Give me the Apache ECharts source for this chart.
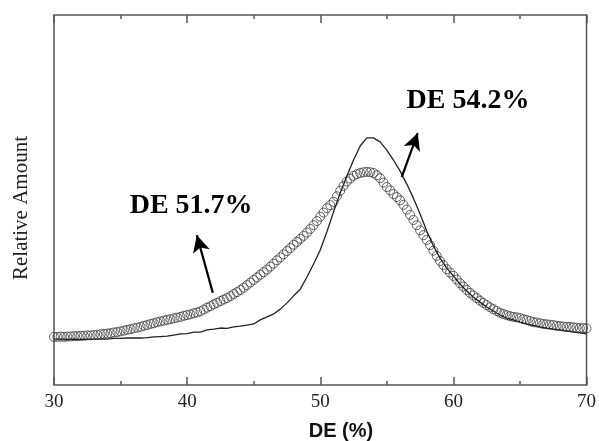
<!DOCTYPE html>
<html>
<head>
<meta charset="utf-8">
<title>DE distribution</title>
<script src="https://cdn.jsdelivr.net/npm/echarts@6/dist/echarts.min.js"></script>
<style>
  html, body { margin: 0; padding: 0; background: #fff; }
  #chart { width: 599px; height: 441px; }
</style>
</head>
<body>
<div id="chart"></div>
<script>
// x-axis tick labels (DE, %)
const xTicks = [30, 40, 50, 60, 70];

// Solid curve (DE 54.2% sample): relative amount, sampled every 0.5 % DE from 30 to 70
const solidStart = 30;
const solidStep = 0.5;
const solidValues = [
  12.4, 12.4, 12.3, 12.4, 12.3, 12.4, 12.4, 12.4, 12.4, 12.6,
  12.6, 12.7, 12.7, 12.7, 12.8, 13.0, 13.1, 13.2, 13.5, 13.8,
  13.9, 14.3, 14.3, 14.9, 15.1, 15.4, 15.3, 15.7, 15.9, 16.2,
  16.5, 17.6, 18.4, 19.2, 20.5, 22.2, 24.1, 25.9, 29.2, 32.7,
  36.5, 41.4, 46.8, 51.9, 56.5, 60.8, 64.6, 66.8, 66.8, 65.7,
  63.5, 60.8, 57.8, 54.3, 50.5, 46.2, 41.6, 37.6, 34.3, 31.6,
  29.5, 27.3, 25.4, 23.8, 22.4, 21.1, 20.0, 18.9, 18.1, 17.6,
  17.0, 16.5, 16.1, 15.7, 15.4, 15.1, 14.9, 14.6, 14.3, 14.1,
  13.8
];

// Open-circle curve (DE 51.7% sample): relative amount, sampled every 0.25 % DE from 30 to 70
const circleStart = 30;
const circleStep = 0.25;
const circleValues = [
  13.0, 13.0, 13.1, 13.0, 13.1, 13.1, 13.2, 13.2, 13.3, 13.3,
  13.4, 13.4, 13.5, 13.6, 13.7, 13.8, 13.9, 14.0, 14.2, 14.3,
  14.5, 14.7, 14.9, 15.1, 15.3, 15.5, 15.7, 16.0, 16.2, 16.5,
  16.7, 17.0, 17.2, 17.4, 17.6, 17.8, 18.0, 18.2, 18.4, 18.7,
  18.9, 19.1, 19.4, 19.6, 19.9, 20.4, 20.9, 21.3, 21.8, 22.2,
  22.7, 23.1, 23.5, 24.0, 24.6, 25.1, 25.7, 26.3, 27.0, 27.7,
  28.4, 29.1, 29.8, 30.5, 31.2, 32.0, 32.8, 33.7, 34.5, 35.3,
  36.2, 37.0, 37.9, 38.7, 39.5, 40.3, 41.2, 42.2, 43.2, 44.3,
  45.5, 46.6, 47.8, 48.6, 49.5, 51.0, 52.5, 53.8, 55.0, 55.8,
  56.5, 57.0, 57.3, 57.5, 57.6, 57.5, 57.3, 56.7, 55.9, 54.7,
  53.5, 52.6, 51.6, 50.8, 49.9, 48.7, 47.4, 46.0, 44.6, 43.2,
  41.8, 40.5, 39.2, 37.8, 36.3, 34.9, 33.5, 32.4, 31.3, 30.4,
  29.5, 28.5, 27.5, 26.6, 25.7, 24.9, 24.2, 23.5, 22.8, 22.2,
  21.6, 21.0, 20.5, 20.0, 19.5, 19.2, 18.9, 18.6, 18.4, 18.3,
  18.1, 17.8, 17.6, 17.3, 17.0, 16.9, 16.7, 16.5, 16.4, 16.3,
  16.2, 16.0, 15.9, 15.8, 15.7, 15.7, 15.6, 15.5, 15.4, 15.4,
  15.3
];

// Annotation labels and arrows (data coordinates: [DE, relative amount])
const labelTexts = ['DE 51.7%', 'DE 54.2%'];
const labelAnchors = [[40.3, 48.4], [61.1, 76.8]];
const arrowTails = [[41.93, 24.9], [56.12, 56.2]];
const arrowHeads = [[40.73, 40.5], [57.32, 68.1]];

const pair = (start, step) => (v, i) => [start + i * step, v];
const solidData = solidValues.map(pair(solidStart, solidStep));
const circleData = circleValues.map(pair(circleStart, circleStep));

const serif = '"Liberation Serif", "Times New Roman", serif';
const sans = '"Liberation Sans", Arial, sans-serif';
const frameColor = '#555';

const chart = echarts.init(document.getElementById('chart'), null, { renderer: 'canvas' });

const tickCommon = {
  axisLine: { show: false },
  axisTick: { show: true, inside: true, length: 8, lineStyle: { color: frameColor, width: 1.5 } },
  minorTick: { show: true, splitNumber: 2, length: 4, lineStyle: { color: frameColor, width: 1.5 } },
  splitLine: { show: false },
  minorSplitLine: { show: false }
};

chart.setOption({
  animation: false,
  backgroundColor: '#fff',
  grid: {
    left: 54, right: 12, top: 15, bottom: 56,
    show: true, borderColor: frameColor, borderWidth: 1.5, backgroundColor: 'transparent'
  },
  xAxis: [
    Object.assign({
      type: 'value', min: 30, max: 70, interval: 10, position: 'bottom',
      axisLabel: {
        show: true, margin: 8, fontFamily: serif, fontSize: 19, color: '#222',
        formatter: v => (xTicks.indexOf(v) >= 0 ? String(v) : '')
      }
    }, tickCommon),
    Object.assign({
      type: 'value', min: 30, max: 70, interval: 10, position: 'top',
      axisLabel: { show: false }
    }, tickCommon)
  ],
  yAxis: {
    type: 'value', min: 0, max: 100,
    axisLine: { show: false }, axisTick: { show: false },
    axisLabel: { show: false }, splitLine: { show: false }
  },
  series: [
    {
      name: 'DE 51.7%',
      type: 'scatter',
      xAxisIndex: 0,
      data: circleData,
      symbol: 'circle',
      symbolSize: 9,
      itemStyle: { color: 'rgba(255,255,255,0)', borderColor: '#3a3a3a', borderWidth: 1 },
      z: 2
    },
    {
      name: 'DE 54.2%',
      type: 'line',
      xAxisIndex: 0,
      data: solidData,
      showSymbol: false,
      smooth: false,
      lineStyle: { color: '#222', width: 1.3 },
      z: 3,
      markLine: {
        silent: true,
        label: { show: false },
        lineStyle: { color: '#000', width: 2.2, type: 'solid' },
        data: arrowTails.map((t, i) => [
          { coord: t, symbol: 'none' },
          { coord: arrowHeads[i], symbol: 'arrow', symbolSize: [13, 17] }
        ])
      },
      markPoint: {
        silent: true,
        symbol: 'circle',
        symbolSize: 0,
        label: {
          show: true, position: 'inside', formatter: '{b}',
          fontFamily: serif, fontWeight: 'bold', fontSize: 28, color: '#000'
        },
        data: labelAnchors.map((c, i) => ({ name: labelTexts[i], coord: c }))
      }
    }
  ],
  graphic: [
    {
      type: 'text', x: 21, y: 208, rotation: Math.PI / 2,
      style: {
        text: 'Relative Amount', font: '21px ' + serif, fill: '#222',
        align: 'center', verticalAlign: 'middle'
      }
    },
    {
      type: 'text', x: 341, y: 431,
      style: {
        text: 'DE (%)', font: 'bold 20px ' + sans, fill: '#111',
        align: 'center', verticalAlign: 'middle'
      }
    }
  ]
});
</script>
</body>
</html>
